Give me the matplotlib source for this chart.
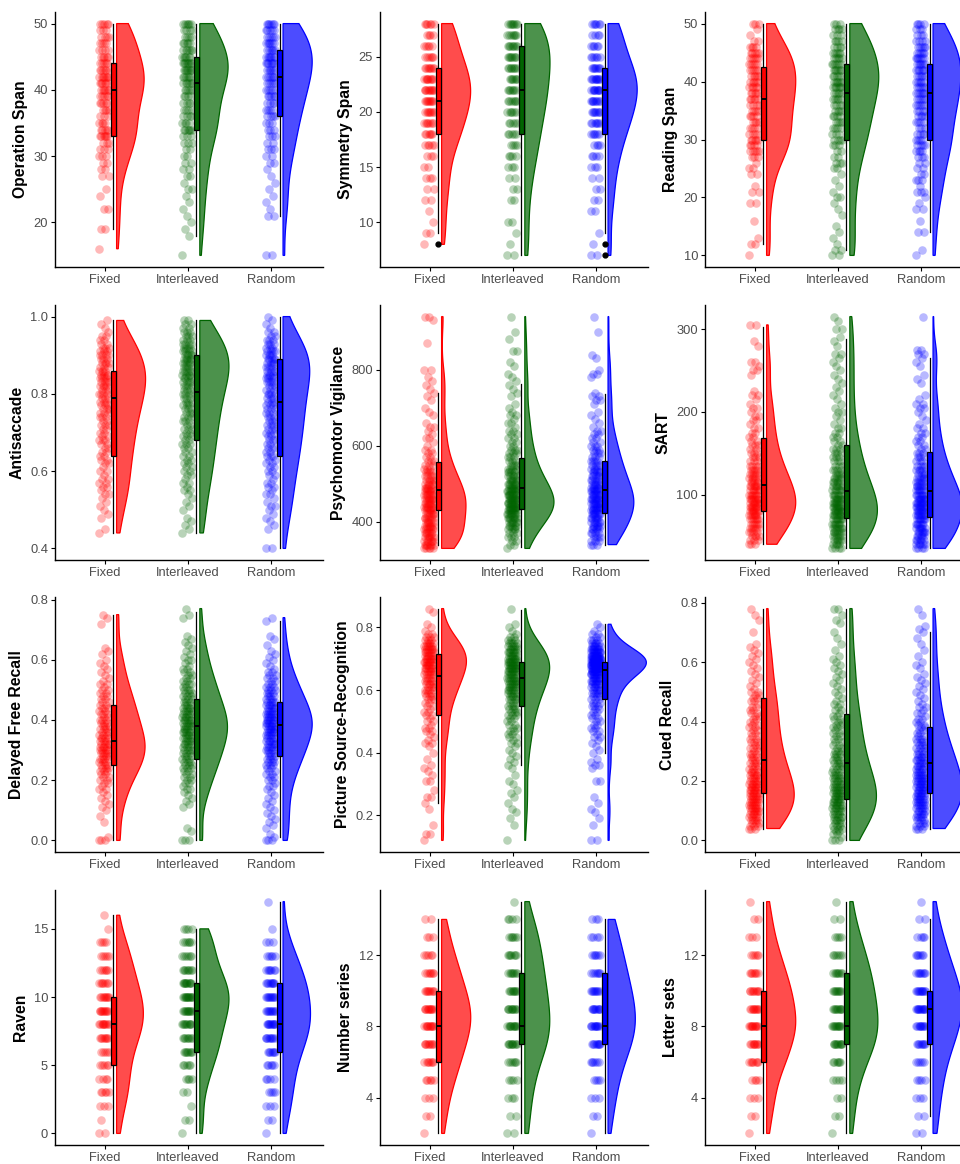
import numpy as np
import matplotlib
matplotlib.use("Agg")
import matplotlib.pyplot as plt
from matplotlib.colors import to_rgba

plt.rcParams['font.family'] = ['Liberation Sans', 'DejaVu Sans']

groups = ["Fixed", "Interleaved", "Random"]
colors = ["#FF0000", "#006400", "#0000FF"]

# Each task: counts of participants per score (start, step), box stats read off
# the picture as (q1, median, q3, whisker low, whisker high), and outliers.

# Operation Span, 15..50
ospan_start, ospan_step = 15, 1
ospan_fixed = [0,1,0,0,2, 0,0,2,0,1, 1,0,2,2,2, 3,3,3,6,5, 4,3,4,5,5, 6,6,7,6,5, 5,4,4,4,3, 5]
ospan_inter = [1,0,0,1,1, 1,1,1,1,1, 2,1,2,2,2, 2,2,3,3,6, 4,4,4,4,4, 5,6,6,8,8, 6,6,5,4,4, 6]
ospan_random = [2,0,0,0,0, 0,2,1,1,1, 1,1,1,1,2, 2,3,2,3,3, 3,4,4,4,5, 5,5,6,6,7, 7,6,6,5,5, 6]
ospan_box = [(33, 40, 44, 19, 50), (34, 41, 45, 18, 50), (36, 42, 46, 21, 50)]
ospan_out = [[], [], []]

# Symmetry Span, 7..28
symspan_start, symspan_step = 7, 1
symspan_fixed = [0,1,2,1,1, 2,2,3,2,3, 5,6,7,8,9, 10,9,8,6,5, 4,6]
symspan_inter = [2,1,1,2,0, 2,2,2,3,4, 4,5,5,6,7, 7,7,8,8,8, 7,8]
symspan_random = [2,1,1,0,2, 2,2,2,3,4, 4,6,7,8,9, 10,10,8,6,5, 4,6]
symspan_box = [(18, 21, 24, 9, 28), (18, 22, 26, 7, 28), (18, 22, 24, 9, 28)]
symspan_out = [[8], [], [8, 7]]

# Reading Span, 10..50
rspan_start, rspan_step = 10, 1
rspan_fixed = [1,0,2,1,0, 0,1,0,0,2, 0,2,1,0,2, 2,1,3,5,4, 5,4,4,4,4, 4,4,5,5,5, 5,5,5,5,5, 5,4,2,1,1, 3]
rspan_inter = [2,2,1,1,1, 1,0,1,1,1, 2,1,1,1,1, 2,3,2,2,3, 4,3,4,4,4, 4,4,5,5,6, 6,5,6,6,5, 5,4,4,3,4, 3]
rspan_random = [1,1,0,0,2, 0,1,0,2,1, 1,3,1,3,2, 2,2,3,4,4, 4,4,3,4,4, 4,5,5,6,5, 5,5,6,6,6, 5,5,4,3,3, 4]
rspan_box = [(30, 37, 42.5, 12, 50), (30, 38, 43, 11, 50), (30, 38, 43, 14, 50)]
rspan_out = [[], [], []]

# Antisaccade, 0.40..1.00
anti_start, anti_step = 0.40, 0.01
anti_fixed = [0,0,0,0,1,1,0,0,1,1, 1,1,1,1,2,1,2,2,2,1, 2,1,2,2,2,2,2,2,3,2,
              2,2,3,2,3,3,3,3,3,3, 4,3,4,4,4,4,4,3,4,3, 4,3,3,2,2,2,1,1,1,1, 0]
anti_inter = [0,0,0,0,1,1,1,1,1,0, 1,1,1,1,1,2,1,2,1,2, 2,2,2,2,2,2,2,3,2,3,
              2,3,2,3,3,3,3,3,3,3, 4,3,4,4,4,4,5,4,5,5, 5,4,4,4,3,3,3,2,2,2, 0]
anti_random = [2,0,0,0,0,1,1,1,1,1, 1,2,1,1,2,1,2,2,1,2, 2,2,2,2,3,2,3,2,3,2,
               3,3,3,3,3,3,3,3,3,3, 4,3,3,4,4,4,4,4,4,5, 4,4,3,3,3,2,2,1,1,1, 1]
anti_box = [(0.64, 0.79, 0.86, 0.44, 0.99), (0.68, 0.805, 0.90, 0.44, 0.99), (0.64, 0.78, 0.89, 0.40, 1.00)]
anti_out = [[], [], []]

# Psychomotor Vigilance, 330..950 ms
pvt_start, pvt_step = 330, 10
pvt_fixed = [5,6,6,6,6,6,6,6,6,6, 6,7,7,7,7,6,6,5,5,4, 4,3,3,3,2,2,2,1,1,2,
             1,1,2,1,0,1,1,1,0,1, 1,1,1,1,1,1,0,2,0,0, 0,0,0,0,1,0,0,0,0,0, 1,2,0]
pvt_inter = [1,2,2,3,3,4,5,6,7,8, 9,9,10,9,9,8,7,7,6,5, 5,4,4,3,3,3,3,2,2,2,
             2,2,1,2,1,2,1,1,1,0, 1,1,1,1,1,1,1,0,1,1, 0,0,2,0,0,1,0,1,0,0, 0,1,0]
pvt_random = [0,3,3,4,4,5,5,6,6,7, 7,7,8,8,7,7,6,6,5,5, 5,4,4,4,3,3,3,3,2,2,
              2,2,1,1,1,1,1,0,1,2, 2,1,0,0,0,1,2,1,0,0, 1,1,0,0,0,0,0,1,0,0, 0,1,0]
pvt_box = [(432, 483, 557, 338, 740), (435, 490, 567, 333, 762), (422, 485, 559, 340, 735)]
pvt_out = [[], [], []]

# SART, 35..315
sart_start, sart_step = 35, 5
sart_fixed = [0,3,3,4,4,5,5,6,6,7, 7,7,7,7,6,6,5,5,5,4, 4,3,3,3,2,3,2,2,2,2,
              1,2,2,1,2,1,1,2,1,0, 0,0,1,2,1,2,0,0,0,1, 1,0,0,0,2,0,0]
sart_inter = [4,4,5,5,6,6,7,7,7,8, 8,7,7,6,6,5,5,5,4,4, 3,3,3,3,3,2,2,2,2,2,
              1,1,1,2,1,1,1,1,1,1, 1,1,1,1,1,1,1,2,0,1, 1,1,0,2,0,1,1]
sart_random = [4,5,5,5,6,6,6,7,7,7, 8,8,7,7,6,6,5,5,4,4, 4,3,3,3,2,2,2,2,2,2,
               1,1,1,1,2,2,1,1,0,0, 1,1,1,0,1,1,1,2,2,0, 0,0,0,0,0,0,1]
sart_box = [(80, 111, 168, 40, 303), (72, 104, 160, 35, 288), (73, 104, 152, 35, 265)]
sart_out = [[], [], []]

# Delayed Free Recall, 0.00..0.77
dfr_start, dfr_step = 0.0, 0.01
dfr_fixed = [3,1,0,0,0,0,1,0,1,0, 1,1,1,1,1,1,1,2,1,2, 2,2,2,3,3,3,3,4,3,4, 4,4,4,3,4,3,3,3,3,3,
             3,2,3,2,3,2,2,2,2,2, 2,1,2,1,1,1,1,1,1,1, 1,0,1,1,1,0,0,0,0,0, 0,0,1,0,1,1,0,0]
dfr_inter = [3,0,0,1,1,0,0,0,0,0, 0,1,1,1,1,1,1,2,1,2, 2,2,2,2,3,3,3,3,3,3, 4,3,4,4,4,4,5,4,5,4,
             5,4,4,4,4,3,3,3,3,3, 3,2,3,2,2,2,2,2,1,1, 2,1,1,1,1,1,1,1,1,0, 0,0,0,0,1,1,0,1]
dfr_random = [3,1,1,0,1,1,1,1,1,1, 1,1,1,1,1,1,1,1,2,1, 2,2,2,2,2,3,3,3,3,3, 4,4,4,4,4,4,5,5,5,5,
              5,5,5,4,4,4,4,3,3,3, 3,3,2,2,2,2,2,1,1,1, 1,1,1,1,0,1,0,1,1,0, 0,0,0,1,1,0,0,0]
dfr_box = [(0.25, 0.33, 0.45, 0.0, 0.75), (0.27, 0.38, 0.47, 0.0, 0.76), (0.28, 0.385, 0.46, 0.01, 0.73)]
dfr_out = [[], [], []]

# Picture Source-Recognition, 0.10..0.86
psr_start, psr_step = 0.10, 0.01
psr_fixed = [0,0,1,0,2,0,0,1,0,0, 0,0,1,0,1,0,2,0,1,0, 0,2,0,1,1,1,1,0,1,0, 1,0,1,2,1,1,1,2,2,1,
             2,1,2,2,1,2,2,3,3,3, 4,3,4,4,4,5,5,5,6,6, 6,6,6,6,5,4,3,3,2,1, 1,1,0,0,0,1,1]
psr_inter = [0,0,1,0,0,0,0,1,0,1, 0,1,1,0,1,0,1,1,1,0, 1,1,0,1,0,1,1,1,1,1, 1,1,1,2,1,2,2,2,2,2,
             2,2,3,3,3,3,3,4,4,4, 5,5,5,6,6,6,6,7,7,7, 6,6,6,5,4,4,3,2,1,1, 1,1,0,0,0,0,1]
psr_random = [0,0,2,0,0,0,0,1,0,1, 0,1,1,0,1,0,1,0,0,0, 0,2,0,0,0,1,2,1,1,0, 1,1,1,1,1,2,1,2,2,2,
              2,2,2,2,2,3,3,3,3,4, 4,4,5,6,7,9,10,12,13,14, 14,12,10,7,5,4,3,2,2,1, 1,1,0,0,0,0,0]
psr_box = [(0.52, 0.645, 0.715, 0.24, 0.86), (0.55, 0.64, 0.69, 0.36, 0.855), (0.57, 0.665, 0.69, 0.40, 0.81)]
psr_out = [[], [], []]

# Cued Recall, 0.00..0.78
cued_start, cued_step = 0.0, 0.01
cued_fixed = [0,0,0,0,3,3,3,4,4,4, 5,5,5,5,5,5,5,5,5,5, 4,4,4,4,3,3,3,3,3,3, 2,3,2,3,2,2,2,2,2,2,
              2,2,2,2,2,2,1,2,2,2, 2,1,1,1,1,1,1,1,1,1, 1,1,1,1,1,1,1,0,0,0, 1,0,0,0,1,0,1,0,1]
cued_inter = [3,1,2,2,3,3,3,4,4,4, 4,5,5,5,5,5,5,5,5,4, 4,4,4,3,3,3,3,3,3,3, 3,2,2,2,2,2,2,2,2,2,
              2,2,2,1,2,1,2,1,1,1, 1,1,1,1,1,1,1,1,1,1, 1,1,1,0,1,0,1,0,1,0, 1,0,0,1,1,0,1,0,2]
cued_random = [0,0,0,0,3,3,3,3,4,4, 4,4,5,5,5,5,5,5,5,5, 5,5,5,4,4,4,4,4,4,3, 3,3,3,3,3,2,2,2,2,2,
               2,2,1,2,1,2,1,1,1,1, 1,1,1,1,1,1,1,0,1,1, 1,0,1,0,1,0,1,0,1,0, 1,1,1,0,0,0,1,0,1]
cued_box = [(0.16, 0.27, 0.48, 0.04, 0.78), (0.14, 0.26, 0.425, 0.0, 0.78), (0.16, 0.26, 0.38, 0.04, 0.70)]
cued_out = [[], [], []]

# Raven, 0..17
raven_start, raven_step = 0, 1
raven_fixed = [2,1,3,5,4,5,5,8,10,10,9,7,6,5,4,1,1,0]
raven_inter = [1,2,1,2,4,5,8,8,10,11,13,11,8,6,6,4,0,0]
raven_random = [1,2,3,4,4,5,7,9,11,10,10,9,7,5,3,1,0,1]
raven_box = [(5, 8, 10, 0, 16), (6, 9, 11, 0, 15), (6, 8, 11, 0, 17)]
raven_out = [[], [], []]

# Number series, 2..15
numser_start, numser_step = 2, 1
numser_fixed = [1,2,3,5,7,9,11,11,9,7,5,3,2,0]
numser_inter = [2,2,3,4,6,10,11,10,9,8,7,6,4,1]
numser_random = [1,2,3,4,6,9,11,10,9,7,6,4,3,0]
numser_box = [(6, 8, 10, 2, 14), (7, 8, 11, 2, 15), (7, 8, 11, 2, 14)]
numser_out = [[], [], []]

# Letter sets, 2..15
letters_start, letters_step = 2, 1
letters_fixed = [1,2,3,4,7,9,11,10,9,7,5,3,2,1]
letters_inter = [1,2,2,4,6,10,11,10,9,8,6,4,2,1]
letters_random = [2,2,3,4,5,8,10,12,11,8,6,4,2,1]
letters_box = [(6, 8, 10, 2, 15), (7, 8, 11, 2, 15), (7, 9, 10, 3, 14)]
letters_out = [[], [], []]

panels = [
    ("Operation Span", ospan_start, ospan_step, [ospan_fixed, ospan_inter, ospan_random], ospan_box, ospan_out, [20, 30, 40, 50], "{:.0f}"),
    ("Symmetry Span", symspan_start, symspan_step, [symspan_fixed, symspan_inter, symspan_random], symspan_box, symspan_out, [10, 15, 20, 25], "{:.0f}"),
    ("Reading Span", rspan_start, rspan_step, [rspan_fixed, rspan_inter, rspan_random], rspan_box, rspan_out, [10, 20, 30, 40, 50], "{:.0f}"),
    ("Antisaccade", anti_start, anti_step, [anti_fixed, anti_inter, anti_random], anti_box, anti_out, [0.4, 0.6, 0.8, 1.0], "{:.1f}"),
    ("Psychomotor Vigilance", pvt_start, pvt_step, [pvt_fixed, pvt_inter, pvt_random], pvt_box, pvt_out, [400, 600, 800], "{:.0f}"),
    ("SART", sart_start, sart_step, [sart_fixed, sart_inter, sart_random], sart_box, sart_out, [100, 200, 300], "{:.0f}"),
    ("Delayed Free Recall", dfr_start, dfr_step, [dfr_fixed, dfr_inter, dfr_random], dfr_box, dfr_out, [0.0, 0.2, 0.4, 0.6, 0.8], "{:.1f}"),
    ("Picture Source-Recognition", psr_start, psr_step, [psr_fixed, psr_inter, psr_random], psr_box, psr_out, [0.2, 0.4, 0.6, 0.8], "{:.1f}"),
    ("Cued Recall", cued_start, cued_step, [cued_fixed, cued_inter, cued_random], cued_box, cued_out, [0.0, 0.2, 0.4, 0.6, 0.8], "{:.1f}"),
    ("Raven", raven_start, raven_step, [raven_fixed, raven_inter, raven_random], raven_box, raven_out, [0, 5, 10, 15], "{:.0f}"),
    ("Number series", numser_start, numser_step, [numser_fixed, numser_inter, numser_random], numser_box, numser_out, [4, 8, 12], "{:.0f}"),
    ("Letter sets", letters_start, letters_step, [letters_fixed, letters_inter, letters_random], letters_box, letters_out, [4, 8, 12], "{:.0f}"),
]

# violin max width per panel (x units)
violin_w = [0.35, 0.35, 0.35, 0.35, 0.35, 0.35, 0.35, 0.46, 0.35, 0.35, 0.35, 0.35]


def expand(start, step, counts):
    levels = np.round(start + step * np.arange(len(counts)), 4)
    return np.repeat(levels, counts)


def kde(vals, grid):
    n = len(vals)
    q75, q25 = np.percentile(vals, [75, 25])
    bw = 0.9 * min(vals.std(ddof=1), (q75 - q25) / 1.34) * n ** -0.2
    z = (grid[:, None] - vals[None, :]) / bw
    return np.exp(-0.5 * z ** 2).sum(axis=1) / (n * bw * np.sqrt(2 * np.pi))


fig = plt.figure(figsize=(9.6, 11.64), dpi=100)
col_x = [55, 380, 705]
row_top = [12, 305, 597, 890]
ax_w, ax_h = 268, 255

for i, (label, start, step, counts, boxes, outs, yticks, fmt) in enumerate(panels):
    r, c = divmod(i, 3)
    ax = fig.add_axes([col_x[c] / 960, 1 - (row_top[r] + ax_h) / 1164, ax_w / 960, ax_h / 1164])

    data = [expand(start, step, cnt) for cnt in counts]
    grids = [np.linspace(d.min(), d.max(), 400) for d in data]
    dens = [kde(d, g) for d, g in zip(data, grids)]
    dmax = max(d.max() for d in dens)

    for k, (vals, col) in enumerate(zip(data, colors)):
        pos = k + 1
        # rain: jittered points
        jit = (((np.arange(len(vals)) * 0.6180339887) % 1.0) - 0.5) * 0.12
        ax.scatter(pos - 0.01 + jit, vals, s=38, color=col, alpha=0.28, linewidths=0, zorder=1)

        # cloud: half violin
        base = pos + 0.14
        w = dens[k] / dmax * violin_w[i]
        xs = np.concatenate([[base], base + w, [base]])
        ys = np.concatenate([[grids[k][0]], grids[k], [grids[k][-1]]])
        ax.fill(xs, ys, facecolor=to_rgba(col, 0.7), edgecolor=col, linewidth=0.9, zorder=2)

        q1, med, q3, lo, hi = boxes[k]
        st = [dict(med=med, q1=q1, q3=q3, whislo=lo, whishi=hi, fliers=outs[k])]
        ax.bxp(st, positions=[pos + 0.10], widths=0.065, patch_artist=True, showcaps=False,
               manage_ticks=False, zorder=3,
               boxprops=dict(facecolor=col, edgecolor='black', linewidth=0.9),
               medianprops=dict(color='black', linewidth=1.4),
               whiskerprops=dict(color='black', linewidth=0.9),
               flierprops=dict(marker='o', markerfacecolor='black', markeredgecolor='black', markersize=3.5))

    ax.set_xlim(0.40, 3.62)
    ax.margins(y=0.05)
    ax.set_xticks([1, 2, 3])
    ax.set_xticklabels(groups)
    ax.set_yticks(yticks)
    ax.set_yticklabels([fmt.format(t) for t in yticks])
    ax.set_ylabel(label, fontsize=11.3, fontweight='bold', labelpad=4)
    for s in ['top', 'right']:
        ax.spines[s].set_visible(False)
    for s in ['left', 'bottom']:
        ax.spines[s].set_linewidth(1.0)
    ax.tick_params(axis='both', length=3, width=0.8, labelsize=9.3, labelcolor='#4D4D4D', pad=2)

fig.savefig("out.png", dpi=100)
